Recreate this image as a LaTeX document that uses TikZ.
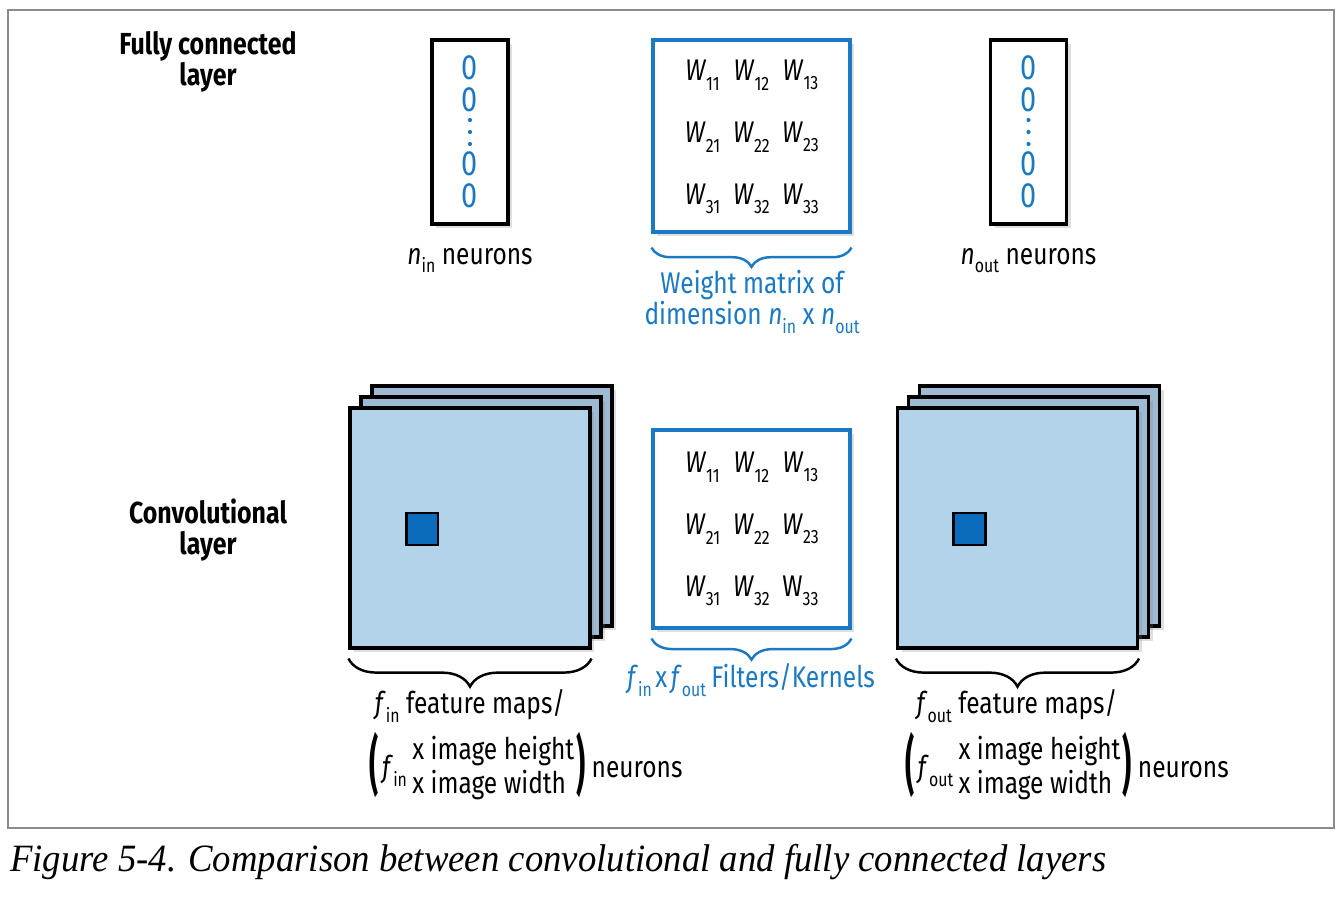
\documentclass[tikz,border=0pt]{standalone}
\usepackage{fontspec}
\usepackage{graphicx}
\setmainfont{Liberation Serif}
\newfontfamily\lblfont[FakeStretch=0.82]{Fira Sans}
\newfontfamily\capfont[FakeStretch=0.95]{Liberation Serif}
\usepackage{xcolor}
\usetikzlibrary{positioning}
\usetikzlibrary{shadows}
\usetikzlibrary{decorations.pathreplacing}

\definecolor{fcblue}{HTML}{1B79C4}
\definecolor{maplight}{HTML}{B3D3EA}
\definecolor{mapdark}{HTML}{9DBAD2}
\definecolor{pxblue}{HTML}{0B6BBD}
\definecolor{framegray}{HTML}{8C8C8C}

% small helpers for indexed symbols
\newcommand{\lsub}[2]{\textit{#1}\raisebox{-0.55ex}{\fontsize{11}{11}\selectfont #2}}
\newcommand{\went}[1]{\textit{W}\raisebox{-0.6ex}{\fontsize{11}{11}\selectfont #1}}
\newcommand{\bigpar}[1]{\raisebox{-6pt}{\scalebox{1.15}[2.15]{\bfseries #1}}}
\newcommand{\imgsize}[1]{\bigpar{(}\hspace{2pt}#1\hspace{3pt}\begin{tabular}{@{}l@{}}x image height\\x image width\end{tabular}\hspace{1pt}\bigpar{)}}

\begin{document}
\begin{tikzpicture}[x=0.02cm, y=-0.02cm,
    every node/.style = {font=\lblfont\fontsize{17}{19}\selectfont, inner sep=0pt},
    title/.style = {font=\lblfont\bfseries\fontsize{17.3}{18}\selectfont, align=center},
    shade/.style = {drop shadow={shadow xshift=2.5pt, shadow yshift=-2.5pt, opacity=0.25}},
    vecbox/.style = {draw=black, line width=2.1pt, fill=white, minimum width=1.52cm, minimum height=3.68cm, shade},
    wbox/.style = {draw=fcblue, line width=1.8pt, fill=white, minimum width=3.94cm, minimum height=#1, shade},
    fmap/.style = {draw=black, line width=1.8pt, fill=maplight, minimum size=4.8cm, shade},
    fmapback/.style = {fmap, fill=mapdark},
    pixel/.style = {draw=black, line width=1.7pt, fill=pxblue, minimum size=0.64cm},
    brc/.style = {decorate, decoration={brace, amplitude=#1}, line width=1.4pt},
    zero/.style = {text=fcblue, font=\lblfont\fontsize{20}{20}\selectfont}
    ]
    \useasboundingbox (0,0) rectangle (1342,898);
    \draw[framegray, line width=0.8pt] (8,10) rectangle (1334,828);

    % fully connected layer
    \node[title] (fctitle) at (208,62) {Fully connected\\layer};
    \node[vecbox] (vin) at (470,132) {};
    \node[vecbox] (vout) at (1028.5,132) {};
    \foreach \v in {vin, vout} {
      \foreach \y/\i in {-64/1, -32/2, 32/3, 64/4}
        \path (\v.center) ++(0,\y) node[zero] (\v-\i) {0};
      \foreach \y in {-12, 0, 12}
        \fill[fcblue] (\v.center) ++(0,\y) circle (1.2pt);
    }
    \node (ninlab) [below=0.44cm of vin] {\lsub{n}{in} neurons};
    \node (noutlab) [below=0.44cm of vout] {\lsub{n}{out} neurons};

    \node[wbox=3.84cm] (wfc) at (751.5,136) {};
    \foreach \r in {1,2,3}
      \foreach \c in {1,2,3}
        \path (wfc.center) ++(\c*49-98, \r*62-123) node (wfc-\r\c) {\went{\r\c}};
    \draw[brc=11pt, fcblue] ([yshift=-0.28cm]wfc.south east) -- ([yshift=-0.28cm]wfc.south west);
    \node[text=fcblue, align=center, font=\lblfont\fontsize{17}{17.6}\selectfont] (wmlab) at (752,302)
      {Weight matrix of\\dimension \lsub{n}{in} x \lsub{n}{out}};

    % convolutional layer
    \node[title] (convtitle) at (208,530) {Convolutional\\layer};
    \node[fmapback] (fin-3) at (492,506) {};
    \node[fmapback] (fin-2) at (481,517) {};
    \node[fmap] (fin) at (470,528) {};
    \node[pixel] (fin-px) at (422,529) {};
    \node[fmapback] (fout-3) at (1039.5,506) {};
    \node[fmapback] (fout-2) at (1028.5,517) {};
    \node[fmap] (fout) at (1017.5,528) {};
    \node[pixel] (fout-px) at (969,529) {};

    \node[wbox=3.96cm] (wcv) at (751.5,529) {};
    \foreach \r in {1,2,3}
      \foreach \c in {1,2,3}
        \path (wcv.center) ++(\c*49-98, \r*62-124) node (wcv-\r\c) {\ifnum\r\c=33 W\raisebox{-0.6ex}{\fontsize{11}{11}\selectfont 33}\else\went{\r\c}\fi};
    \draw[brc=12pt, fcblue] ([yshift=-0.18cm]wcv.south east) -- ([yshift=-0.18cm]wcv.south west);
    \node[text=fcblue] (klab) at (751,680) {\lsub{f}{in}\hspace{2pt}x\hspace{2pt}\lsub{f}{out}\hspace{3pt}Filters/Kernels};

    \draw[brc=16pt] ([yshift=-0.18cm]fin.south east) -- ([yshift=-0.18cm]fin.south west);
    \draw[brc=16pt] ([yshift=-0.18cm]fout.south east) -- ([yshift=-0.18cm]fout.south west);
    \node (finlab) at (470,706) {\lsub{f}{in} feature maps/};
    \node (foutlab) at (1017,706) {\lsub{f}{out} feature maps/};
    \node (finneu) at (526,768) {\imgsize{\lsub{f}{in}} neurons};
    \node (foutneu) at (1067,768) {\imgsize{\lsub{f}{out}} neurons};

    % caption
    \node[anchor=west, font=\capfont\itshape\fontsize{22}{22}\selectfont] (caption) at (10,862)
      {Figure 5-4. Comparison between convolutional and fully connected layers};
\end{tikzpicture}
\end{document}
